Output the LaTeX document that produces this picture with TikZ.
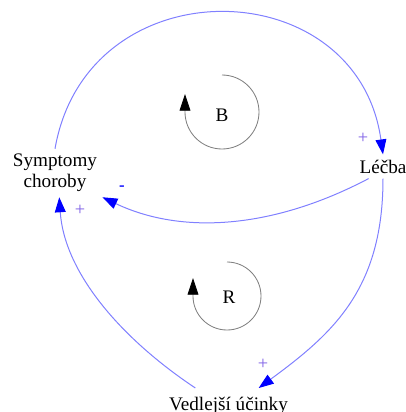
\documentclass[tikz,border=0pt]{standalone}
\usepackage{fontspec}
\setmainfont{Liberation Serif}
\usetikzlibrary{arrows.meta}
\definecolor{modra}{RGB}{128,128,255}
\definecolor{znamenko}{RGB}{125,95,230}
\begin{document}
\begin{tikzpicture}[
    x=0.6pt, y=-0.6pt,
    every node/.style={font=\fontsize{11.5}{12.6}\selectfont},
    uzel/.style={inner sep=3pt, align=center},
    spoj/.style={modra, line width=0.6pt, -{Triangle[length=9pt,width=6.5pt,color=blue]}},
    smycka/.style={gray, line width=0.5pt, -{Triangle[length=10pt,width=6.5pt,color=black]}},
    znak/.style={text=znamenko, font=\fontsize{11}{12}\selectfont}]
    \useasboundingbox (0,0) rectangle (406,412);

    % Proměnné.
    \node[uzel] (symp) at (55,173) {Symptomy\\choroby};
    \node[uzel] (lecba) at (383,166.5) {Léčba};
    \node[uzel, anchor=base] (vedl) at (228.5,410) {Vedlejší účinky};

    % Vazby.
    \draw[spoj] (symp.north) .. controls +(32,-184) and +(-26,-185) .. (lecba.north);
    \draw[spoj] (lecba.220) .. controls +(-95,50) and +(80,38) .. (symp.south east);
    \draw[spoj] (lecba.south) .. controls +(0,110) and +(75,-55) .. ([yshift=2pt]vedl.25);
    \draw[spoj] ([yshift=2pt]vedl.157) .. controls +(-75,-50) and +(5,75) .. (symp.-80);

    % Polarity.
    \node[znak] (plusLecba) at (363,138) {+};
    \node[text=blue, font=\bfseries] (minus) at (122,188) {-};
    \node[znak] (plusSymp) at (80,210) {+};
    \node[znak] (plusVedl) at (263,364) {+};

    % Smyčky.
    \draw[smycka] (222,75) arc[start angle=-90, end angle=180, radius=37] -- ++(0,-18);
    \node (B) at (222,115) {B};
    \draw[smycka] (227,262) arc[start angle=-90, end angle=180, radius=34] -- ++(0,-18);
    \node (R) at (229,297) {R};
\end{tikzpicture}
\end{document}
